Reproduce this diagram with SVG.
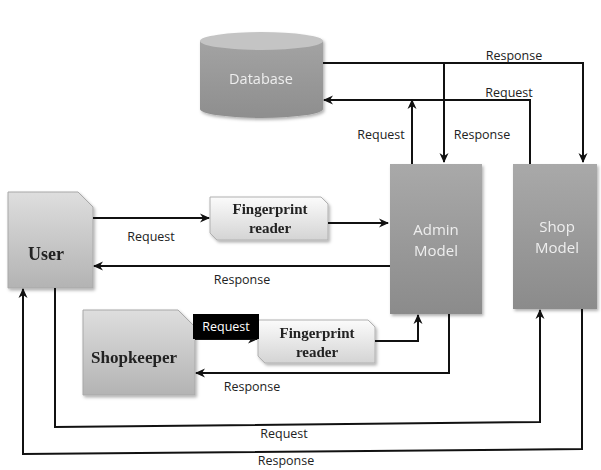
<svg xmlns="http://www.w3.org/2000/svg" width="601" height="470" viewBox="0 0 601 470">
<defs>
<style>
.ln{fill:none;stroke:#111;stroke-width:2;marker-end:url(#ah)}
.lbl{font-family:"Open Sans","Liberation Sans",sans-serif;font-size:12.5px;fill:#222;text-anchor:middle}
.wt{font-family:"Open Sans","Liberation Sans",sans-serif;fill:#eeeeee;text-anchor:middle}
.bs{font-family:"Liberation Serif","Times New Roman",serif;font-weight:bold;fill:#222;text-anchor:middle}
</style>
<marker id="ah" viewBox="0 0 10 10" refX="9" refY="5" markerWidth="10" markerHeight="10" markerUnits="userSpaceOnUse" orient="auto">
<path d="M0,0.5 L10,5 L0,9.5 L3,5 Z" fill="#111"/>
</marker>
<linearGradient id="gDark" x1="0" y1="0" x2="0" y2="1">
<stop offset="0" stop-color="#a9a9a9"/><stop offset="1" stop-color="#8b8b8b"/>
</linearGradient>
<linearGradient id="gLight" x1="0" y1="0" x2="0" y2="1">
<stop offset="0" stop-color="#dedede"/><stop offset="1" stop-color="#b3b3b3"/>
</linearGradient>
<linearGradient id="gFp" x1="0" y1="0" x2="0" y2="1">
<stop offset="0" stop-color="#fbfbfb"/><stop offset="1" stop-color="#d4d4d4"/>
</linearGradient>
<linearGradient id="gDb" x1="0" y1="0" x2="0" y2="1">
<stop offset="0" stop-color="#a3a3a3"/><stop offset="1" stop-color="#8e8e8e"/>
</linearGradient>
<filter id="sh" x="-10%" y="-10%" width="130%" height="130%">
<feDropShadow dx="1.5" dy="2" stdDeviation="1.5" flood-color="#000" flood-opacity="0.3"/>
</filter>
</defs>
<rect width="601" height="470" fill="#fff"/>

<g id="database" filter="url(#sh)">
<path d="M200,41 L200,109 A61.5,9 0 0 0 323,109 L323,41 Z" fill="url(#gDb)"/>
<ellipse cx="261.5" cy="41" rx="61.5" ry="9" fill="#c4c4c4"/>
<text class="wt" x="261" y="84" font-size="14.5">Database</text>
</g>

<g id="admin-model" filter="url(#sh)">
<rect x="390" y="164" width="92" height="150" fill="url(#gDark)"/>
<text class="wt" x="436" y="235" font-size="15">Admin</text>
<text class="wt" x="436" y="256" font-size="15">Model</text>
</g>

<g id="shop-model" filter="url(#sh)">
<rect x="513" y="164" width="84" height="145" fill="url(#gDark)"/>
<text class="wt" x="557" y="232" font-size="15">Shop</text>
<text class="wt" x="557" y="253" font-size="15">Model</text>
</g>

<g id="user" filter="url(#sh)">
<path d="M8,192 L78,192 L93,207 L93,288 L8,288 Z" fill="url(#gLight)" stroke="#a8a8a8" stroke-width="1"/>
<text class="bs" x="46" y="260" font-size="18">User</text>
</g>

<g id="fingerprint-reader-1" filter="url(#sh)">
<path d="M210,197 L321,197 L328,204 L328,240 L217,240 L210,233 Z" fill="url(#gFp)" stroke="#b0b0b0" stroke-width="1"/>
<text class="bs" x="270" y="214" font-size="15">Fingerprint</text>
<text class="bs" x="270" y="233" font-size="15">reader</text>
</g>

<g id="shopkeeper" filter="url(#sh)">
<path d="M83,310 L178,310 L195,327 L195,395 L83,395 Z" fill="url(#gLight)" stroke="#a8a8a8" stroke-width="1"/>
<text class="bs" x="134" y="363" font-size="17">Shopkeeper</text>
</g>

<g id="fingerprint-reader-2" filter="url(#sh)">
<path d="M258,320 L368,320 L375,327 L375,363 L265,363 L258,356 Z" fill="url(#gFp)" stroke="#b0b0b0" stroke-width="1"/>
<text class="bs" x="317" y="338" font-size="15">Fingerprint</text>
<text class="bs" x="317" y="357" font-size="15">reader</text>
</g>

<g id="connectors">
<path class="ln" d="M323,63 H583 V162"/>
<path class="ln" d="M444,63 V162"/>
<path class="ln" d="M530,164 V100 H324"/>
<path class="ln" d="M412,164 V100"/>
<path class="ln" d="M93,218 H209"/>
<path class="ln" d="M328,223 H388"/>
<path class="ln" d="M390,266 H94"/>
<path class="ln" d="M195,339 H257"/>
<path class="ln" d="M375,341 H418 V315"/>
<path class="ln" d="M449,314 V373 H196"/>
<path class="ln" d="M55,288 V427 L540,422 V310"/>
<path class="ln" d="M582,309 V449 L23,454 V289"/>
</g>

<g id="request-tag">
<rect x="193" y="314" width="66" height="25" fill="#000"/>
<text x="226" y="331" font-family="Open Sans, Liberation Sans, sans-serif" font-size="12.5" fill="#fff" text-anchor="middle">Request</text>
</g>

<g id="labels">
<text class="lbl" x="514" y="60">Response</text>
<text class="lbl" x="509" y="97">Request</text>
<text class="lbl" x="381" y="139">Request</text>
<text class="lbl" x="482" y="139">Response</text>
<text class="lbl" x="151" y="241">Request</text>
<text class="lbl" x="242" y="284">Response</text>
<text class="lbl" x="252" y="391">Response</text>
<text class="lbl" x="284" y="438">Request</text>
<text class="lbl" x="286" y="465">Response</text>
</g>
</svg>
